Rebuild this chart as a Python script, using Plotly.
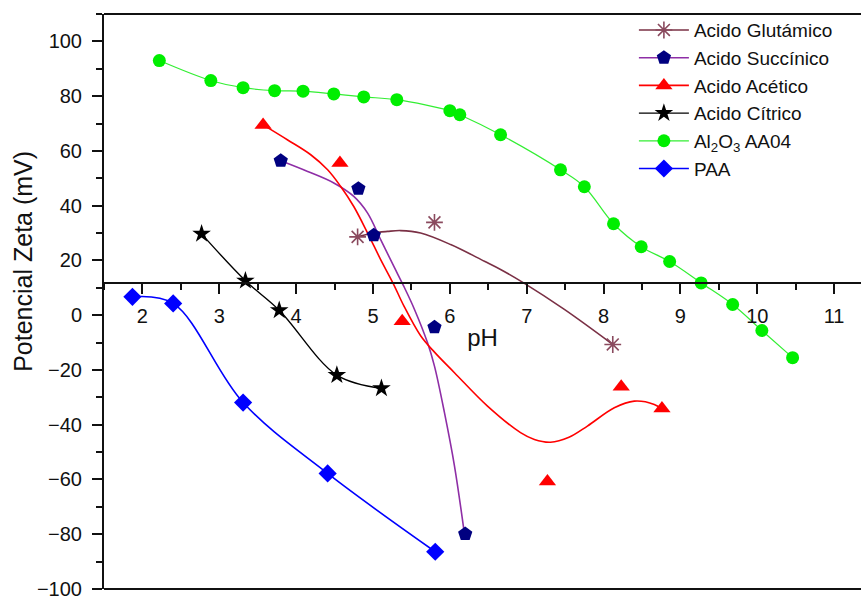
import plotly.graph_objects as go

# ---------------- data ----------------
glu_ph = [4.80, 5.80, 8.12]
glu_z = [28.6, 33.9, -10.7]
glu_fit_ph = [4.80, 5.00, 5.19, 5.36, 5.62, 6.01, 6.45, 6.66, 6.96, 7.49, 8.12]
glu_fit_z = [28.6, 30.0, 30.6, 30.9, 30.0, 25.8, 19.7, 16.7, 11.8, 2.1, -10.7]

suc_ph = [3.80, 4.81, 5.01, 5.80, 6.20]
suc_z = [56.4, 46.2, 29.2, -4.4, -79.9]
suc_fit_ph = [3.80, 4.15, 4.49, 4.75, 4.93, 5.10, 5.27, 5.40, 5.54, 5.71, 5.80, 5.93, 6.06, 6.19]
suc_fit_z = [56.4, 52.5, 48.3, 43.4, 37.3, 27.6, 17.9, 10.6, 2.1, -10.1, -18.6, -35.6, -55.0, -79.9]

ace_ph = [3.57, 4.57, 5.38, 7.27, 8.23, 8.76]
ace_z = [69.5, 55.6, -2.2, -60.7, -26.1, -34.1]
ace_fit_ph = [3.57, 3.89, 4.19, 4.41, 4.58, 4.75, 4.93, 5.10, 5.27, 5.40, 5.62, 5.80,
              6.06, 6.49, 6.92, 7.10, 7.31, 7.55, 7.79, 8.14, 8.40, 8.66, 8.76]
ace_fit_z = [69.5, 64.0, 58.6, 53.1, 47.0, 39.7, 30.0, 20.3, 11.2, 3.5, -7.5, -13.5,
             -21.0, -33.2, -42.9, -45.4, -46.4, -44.6, -40.5, -33.8, -31.4, -32.6, -34.3]

cit_ph = [2.77, 3.34, 3.78, 4.53, 5.11]
cit_z = [29.7, 12.6, 1.8, -21.9, -26.7]

al_ph = [2.22, 2.89, 3.31, 3.72, 4.09, 4.49, 4.88, 5.31, 6.00, 6.13, 6.66,
         7.44, 7.75, 8.13, 8.49, 8.86, 9.27, 9.68, 10.06, 10.46]
al_z = [93.0, 85.7, 83.1, 82.0, 81.8, 80.8, 79.7, 78.7, 74.7, 73.2, 65.9,
        53.1, 46.9, 33.4, 25.0, 19.6, 11.8, 3.9, -5.6, -15.5]

paa_ph = [1.87, 2.40, 3.31, 4.41, 5.81]
paa_z = [6.7, 4.3, -31.9, -57.8, -86.4]

x_cross = 11.8          # y value where the pH axis crosses
y_range = [-100, 110]
x_range = [1.5, 11.35]

FONT = "Liberation Sans, Arial, sans-serif"

# ---------------- styles ----------------
series = [
    dict(name="Acido Glutámico", color="#7a3045", mcolor="#8a4a5e", symbol="asterisk-open", size=14,
         px=glu_ph, pz=glu_z, fx=glu_fit_ph, fz=glu_fit_z, lw=1.6),
    dict(name="Acido Succínico", color="#8e2ea6", mcolor="#000080", symbol="pentagon", size=15,
         px=suc_ph, pz=suc_z, fx=suc_fit_ph, fz=suc_fit_z, lw=1.6),
    dict(name="Acido Acético", color="#ff0000", mcolor="#ff0000", symbol="triangle-up", size=15,
         px=ace_ph, pz=ace_z, fx=ace_fit_ph, fz=ace_fit_z, lw=1.6),
    dict(name="Acido Cítrico", color="#000000", mcolor="#000000", symbol="star", size=14,
         px=cit_ph, pz=cit_z, fx=cit_ph, fz=cit_z, lw=1.4),
    dict(name="Al<sub>2</sub>O<sub>3</sub> AA04", color="#33ee33", mcolor="#00ee00", symbol="circle", size=13,
         px=al_ph, pz=al_z, fx=al_ph, fz=al_z, lw=1.2),
    dict(name="PAA", color="#0000ff", mcolor="#0000ff", symbol="diamond", size=14,
         px=paa_ph, pz=paa_z, fx=paa_ph, fz=paa_z, lw=1.6),
]

fig = go.Figure()
for s in series:
    fig.add_trace(go.Scatter(x=s["fx"], y=s["fz"], mode="lines", showlegend=False,
                             line=dict(color=s["color"], width=s["lw"], shape="spline", smoothing=1.0),
                             hoverinfo="skip"))
for s in series:
    mk = dict(symbol=s["symbol"], size=s["size"], color=s["mcolor"])
    if s["symbol"].endswith("open"):
        mk["line"] = dict(color=s["mcolor"], width=1.6)
    else:
        mk["line"] = dict(width=0)
    fig.add_trace(go.Scatter(x=s["px"], y=s["pz"], mode="markers", showlegend=False, marker=mk))
for s in series:
    mk = dict(symbol=s["symbol"], size=s["size"], color=s["mcolor"])
    if s["symbol"].endswith("open"):
        mk["line"] = dict(color=s["mcolor"], width=1.6)
    else:
        mk["line"] = dict(width=0)
    fig.add_trace(go.Scatter(x=[None], y=[None], mode="lines+markers", name=s["name"],
                             line=dict(color=s["color"], width=s["lw"]), marker=mk))

pos = (x_cross - y_range[0]) / (y_range[1] - y_range[0])

fig.update_layout(
    width=861, height=596,
    margin=dict(l=104, r=0, t=14, b=7, autoexpand=False),
    paper_bgcolor="white", plot_bgcolor="white",
    font=dict(family=FONT, size=20, color="#111111"),
    xaxis=dict(range=x_range, anchor="free", position=pos, showgrid=False, zeroline=False,
               automargin=False,
               showline=True, linecolor="#111111", linewidth=2,
               ticks="outside", ticklen=10, tickwidth=2, tickcolor="#111111",
               tick0=2, dtick=1, ticklabelstandoff=5,
               minor=dict(dtick=0.5, ticks="outside", ticklen=6, tickwidth=2, tickcolor="#111111"),
               tickfont=dict(size=20),
               title=dict(text="pH", font=dict(size=24), standoff=2)),
    yaxis=dict(range=y_range, showgrid=False, zeroline=False, automargin=False,
               showline=True, linecolor="#111111", linewidth=2,
               ticks="outside", ticklen=10, tickwidth=2, tickcolor="#111111",
               tick0=0, dtick=20, ticklabelstandoff=6, ticklabeloverflow="allow",
               minor=dict(dtick=10, ticks="outside", ticklen=6, tickwidth=2, tickcolor="#111111"),
               tickfont=dict(size=20)),
    legend=dict(x=0.70, y=1.005, xanchor="left", yanchor="top", bgcolor="rgba(0,0,0,0)",
                font=dict(size=19, color="#111111"), itemwidth=50, tracegroupgap=0),
    shapes=[
        dict(type="line", xref="paper", yref="paper", x0=0, x1=1, y0=1, y1=1,
             line=dict(color="#111111", width=2)),
        dict(type="line", xref="paper", yref="paper", x0=0, x1=1, y0=0, y1=0,
             line=dict(color="#111111", width=2)),
    ],
    annotations=[
        dict(text="Potencial Zeta (mV)", xref="paper", yref="paper", x=-0.107, y=0.569,
             xanchor="center", yanchor="middle", textangle=-90, showarrow=False,
             font=dict(size=25, color="#111111")),
    ],
)

fig.write_html("out.html")
